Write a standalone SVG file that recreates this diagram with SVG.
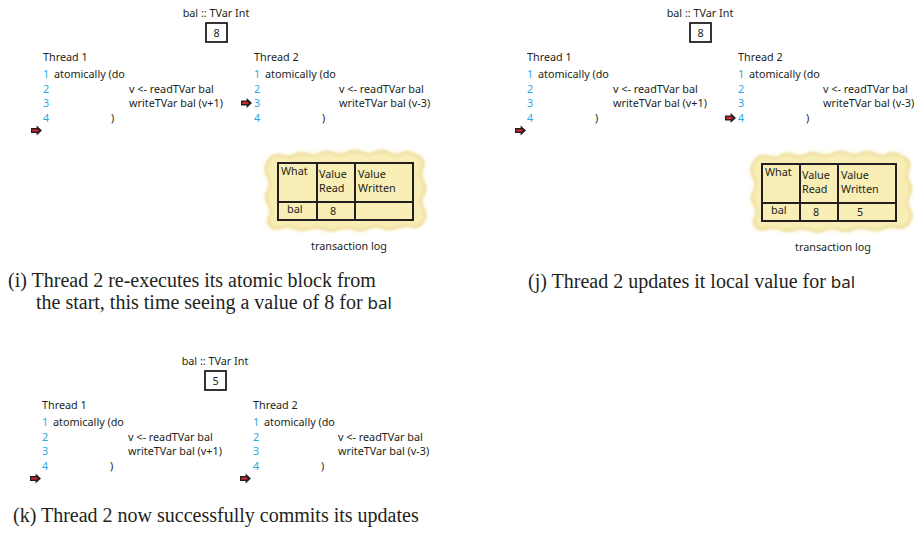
<svg xmlns="http://www.w3.org/2000/svg" xmlns:xlink="http://www.w3.org/1999/xlink" width="915" height="536" viewBox="0 0 915 536">
<style>
.t{font-family:"Noto Sans","DejaVu Sans",sans-serif;font-size:10.8px;fill:#231f20}
.n{fill:#29aae1}
.m{text-anchor:middle}
.cap{font-family:"Liberation Serif","Times New Roman",serif;font-size:20px;fill:#231f20}
.sans{font-family:"Noto Sans","DejaVu Sans",sans-serif;font-size:17px}
.box{fill:none;stroke:#231f20;stroke-width:1.8}
.tbl{fill:none;stroke:#231f20;stroke-width:2}
</style>
<defs>
<g id="ptr">
<path d="M0,-2.6 H5.6 V-5 L11,0 L5.6,5 V2.6 H0 Z" fill="#231f20"/>
<rect x="1.2" y="-1.1" width="6.2" height="2.2" fill="#d7262c"/>
</g>
<filter id="soft" x="-10%" y="-10%" width="120%" height="120%"><feGaussianBlur stdDeviation="1.2"/></filter>
<filter id="soft2" x="-10%" y="-10%" width="120%" height="120%"><feGaussianBlur stdDeviation="2.6"/></filter>
<path id="parch" d="M270,157 Q276,153 282,155 Q288,157 293,155 Q299,151 306,153 Q312,156 318,154 Q324,150 331,152 Q338,155 345,153 Q352,149 360,151 Q366,154 372,153 Q379,149 386,151 Q392,155 399,154 Q405,150 411,152 Q417,155 421,157 Q426,162 423,168 Q420,175 424,182 Q428,189 423,196 Q420,203 425,210 Q428,217 423,223 Q418,229 411,227 Q404,225 398,228 Q391,231 384,229 Q377,226 370,228 Q362,232 355,230 Q348,227 340,229 Q332,233 325,230 Q317,227 310,229 Q302,232 295,229 Q288,226 282,228 Q275,231 270,227 Q265,222 269,216 Q272,210 267,203 Q263,196 268,189 Q271,182 266,175 Q263,168 267,162 Z"/>
</defs>

<g id="panel-i">
<g id="i-tvar">
<text class="t m" x="216" y="17">bal :: TVar Int</text>
<rect class="box" x="206" y="23" width="21" height="19"/>
<text class="t m" x="216.5" y="37">8</text>
</g>
<g id="i-thread1">
<text class="t" x="43" y="61">Thread 1</text>
<text class="t n" x="43" y="78">1</text><text class="t" x="54" y="78">atomically (do</text>
<text class="t n" x="43" y="93">2</text><text class="t" x="129" y="93">v &lt;- readTVar bal</text>
<text class="t n" x="43" y="107">3</text><text class="t" x="129" y="107">writeTVar bal (v+1)</text>
<text class="t n" x="43" y="122">4</text><text class="t" x="111" y="122">)</text>
<use xlink:href="#ptr" x="31" y="130.5"/>
</g>
<g id="i-thread2">
<text class="t" x="254" y="61">Thread 2</text>
<text class="t n" x="254" y="78">1</text><text class="t" x="265" y="78">atomically (do</text>
<text class="t n" x="254" y="93">2</text><text class="t" x="339" y="93">v &lt;- readTVar bal</text>
<text class="t n" x="254" y="107">3</text><text class="t" x="339" y="107">writeTVar bal (v-3)</text>
<text class="t n" x="254" y="122">4</text><text class="t" x="322" y="122">)</text>
<use xlink:href="#ptr" x="241" y="103"/>
</g>
<g id="i-log">
<use xlink:href="#parch" fill="#e3c77f" filter="url(#soft)"/>
<use xlink:href="#parch" fill="#f8eeb6" filter="url(#soft2)"/>
<rect class="tbl" x="278" y="163" width="135" height="57"/>
<line class="tbl" x1="317" y1="163" x2="317" y2="220"/>
<line class="tbl" x1="355" y1="163" x2="355" y2="220"/>
<line class="tbl" x1="278" y1="202" x2="413" y2="202"/>
<text class="t" x="281" y="175">What</text>
<text class="t" x="319" y="178">Value</text><text class="t" x="319" y="192">Read</text>
<text class="t" x="358" y="178">Value</text><text class="t" x="358" y="192">Written</text>
<text class="t" x="287" y="213">bal</text>
<text class="t m" x="333" y="215">8</text>
<text class="t m" x="349" y="250">transaction log</text>
</g>
</g>

<g id="panel-j" transform="translate(484,0)">
<g id="j-tvar">
<text class="t m" x="216" y="17">bal :: TVar Int</text>
<rect class="box" x="206" y="23" width="21" height="19"/>
<text class="t m" x="216.5" y="37">8</text>
</g>
<g id="j-thread1">
<text class="t" x="43" y="61">Thread 1</text>
<text class="t n" x="43" y="78">1</text><text class="t" x="54" y="78">atomically (do</text>
<text class="t n" x="43" y="93">2</text><text class="t" x="129" y="93">v &lt;- readTVar bal</text>
<text class="t n" x="43" y="107">3</text><text class="t" x="129" y="107">writeTVar bal (v+1)</text>
<text class="t n" x="43" y="122">4</text><text class="t" x="111" y="122">)</text>
<use xlink:href="#ptr" x="31" y="130.5"/>
</g>
<g id="j-thread2">
<text class="t" x="254" y="61">Thread 2</text>
<text class="t n" x="254" y="78">1</text><text class="t" x="265" y="78">atomically (do</text>
<text class="t n" x="254" y="93">2</text><text class="t" x="339" y="93">v &lt;- readTVar bal</text>
<text class="t n" x="254" y="107">3</text><text class="t" x="339" y="107">writeTVar bal (v-3)</text>
<text class="t n" x="254" y="122">4</text><text class="t" x="322" y="122">)</text>
<use xlink:href="#ptr" x="241" y="118"/>
</g>
<g id="j-log">
<use xlink:href="#parch" transform="translate(2,1)" fill="#e3c77f" filter="url(#soft)"/>
<use xlink:href="#parch" transform="translate(2,1)" fill="#f8eeb6" filter="url(#soft2)"/>
<rect class="tbl" x="278" y="164" width="134" height="57"/>
<line class="tbl" x1="316" y1="164" x2="316" y2="221"/>
<line class="tbl" x1="354" y1="164" x2="354" y2="221"/>
<line class="tbl" x1="278" y1="203" x2="412" y2="203"/>
<text class="t" x="281" y="176">What</text>
<text class="t" x="318" y="179">Value</text><text class="t" x="318" y="193">Read</text>
<text class="t" x="357" y="179">Value</text><text class="t" x="357" y="193">Written</text>
<text class="t" x="287" y="214">bal</text>
<text class="t m" x="332" y="216">8</text>
<text class="t m" x="376" y="216">5</text>
<text class="t m" x="349" y="251">transaction log</text>
</g>
</g>

<g id="panel-k" transform="translate(-1,348)">
<g id="k-tvar">
<text class="t m" x="216" y="17">bal :: TVar Int</text>
<rect class="box" x="206" y="23" width="21" height="19"/>
<text class="t m" x="216.5" y="37">5</text>
</g>
<g id="k-thread1">
<text class="t" x="43" y="61">Thread 1</text>
<text class="t n" x="43" y="78">1</text><text class="t" x="54" y="78">atomically (do</text>
<text class="t n" x="43" y="93">2</text><text class="t" x="129" y="93">v &lt;- readTVar bal</text>
<text class="t n" x="43" y="107">3</text><text class="t" x="129" y="107">writeTVar bal (v+1)</text>
<text class="t n" x="43" y="122">4</text><text class="t" x="111" y="122">)</text>
<use xlink:href="#ptr" x="31" y="130.5"/>
</g>
<g id="k-thread2">
<text class="t" x="254" y="61">Thread 2</text>
<text class="t n" x="254" y="78">1</text><text class="t" x="265" y="78">atomically (do</text>
<text class="t n" x="254" y="93">2</text><text class="t" x="339" y="93">v &lt;- readTVar bal</text>
<text class="t n" x="254" y="107">3</text><text class="t" x="339" y="107">writeTVar bal (v-3)</text>
<text class="t n" x="254" y="122">4</text><text class="t" x="322" y="122">)</text>
<use xlink:href="#ptr" x="241" y="130.5"/>
</g>
</g>

<g id="captions">
<text class="cap" x="8" y="287">(i) Thread 2 re-executes its atomic block from</text>
<text class="cap" x="36" y="309">the start, this time seeing a value of 8 for <tspan class="sans">bal</tspan></text>
<text class="cap" x="528" y="288">(j) Thread 2 updates it local value for <tspan class="sans">bal</tspan></text>
<text class="cap" x="13" y="522">(k) Thread 2 now successfully commits its updates</text>
</g>
</svg>
